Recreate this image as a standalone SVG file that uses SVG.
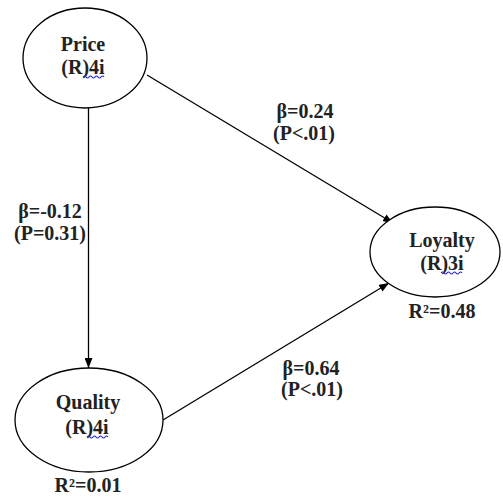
<svg xmlns="http://www.w3.org/2000/svg" width="503" height="498" viewBox="0 0 503 498">
<style>
.n{fill:#fff;stroke:#000;stroke-width:1.3}
.t{font-family:"Liberation Serif","Times New Roman",serif;font-weight:bold;font-size:20px;fill:#222;text-anchor:middle}
.c{stroke:#000;stroke-width:1.3;fill:none}
.w{stroke:#2a2ad0;stroke-width:1.2;fill:none}
</style>
<defs>
<marker id="ah" viewBox="0 0 10 8" refX="10" refY="4" markerWidth="10" markerHeight="8" markerUnits="userSpaceOnUse" orient="auto">
<path d="M0,0 L10,4 L0,8 Z" fill="#000"/>
</marker>
</defs>
<rect width="503" height="498" fill="#fff"/>
<g id="connectors">
<line class="c" x1="147" y1="75" x2="393" y2="223" marker-end="url(#ah)"/>
<line class="c" x1="88.5" y1="108" x2="88.5" y2="368" marker-end="url(#ah)"/>
<line class="c" x1="163" y1="420" x2="389" y2="283" marker-end="url(#ah)"/>
<text class="t" x="305" y="118">β=0.24</text>
<text class="t" x="304" y="140">(P&lt;.01)</text>
<text class="t" x="50" y="218">β=-0.12</text>
<text class="t" x="50" y="240">(P=0.31)</text>
<text class="t" x="311" y="375">β=0.64</text>
<text class="t" x="312" y="396">(P&lt;.01)</text>
</g>
<g id="price">
<ellipse class="n" cx="85" cy="58" rx="62" ry="50"/>
<text class="t" x="83" y="51">Price</text>
<text class="t" x="83" y="74">(R)4i</text>
<path class="w" d="M83,77 q1.5,-2 3,0 t3,0 t3,0 t3,0 t3,0 t3,0 t3,0"/>
</g>
<g id="loyalty">
<ellipse class="n" cx="435" cy="252" rx="65" ry="45"/>
<text class="t" x="442" y="247">Loyalty</text>
<text class="t" x="442" y="270">(R)3i</text>
<path class="w" d="M441,273 q1.5,-2 3,0 t3,0 t3,0 t3,0 t3,0 t3,0 t3,0"/>
<text class="t" x="442" y="318">R²=0.48</text>
</g>
<g id="quality">
<ellipse class="n" cx="89" cy="420" rx="74" ry="52"/>
<text class="t" x="88" y="409">Quality</text>
<text class="t" x="87" y="434">(R)4i</text>
<path class="w" d="M87,437 q1.5,-2 3,0 t3,0 t3,0 t3,0 t3,0 t3,0 t3,0"/>
<text class="t" x="88" y="492">R²=0.01</text>
</g>
</svg>
